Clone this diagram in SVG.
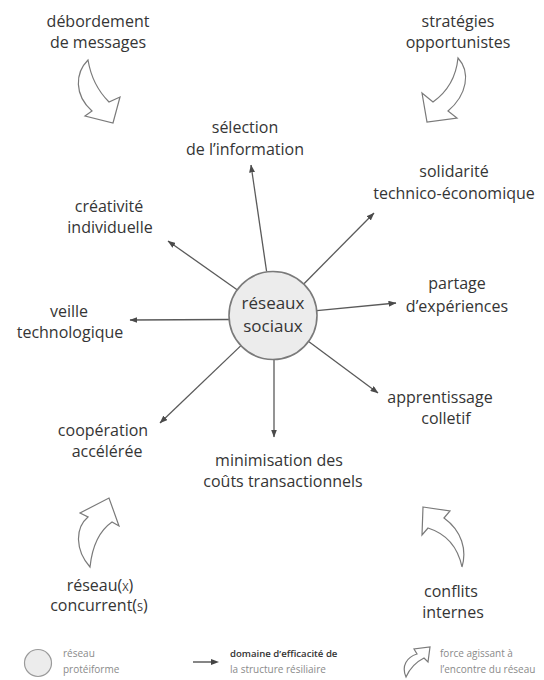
<svg xmlns="http://www.w3.org/2000/svg" width="544" height="680" viewBox="0 0 544 680">
<style>
.lbl{font-family:"Open Sans","Noto Sans",sans-serif;font-size:16px;fill:#353535;text-anchor:middle}
.ctr{font-family:"Open Sans","Noto Sans",sans-serif;font-size:17px;fill:#353535;text-anchor:middle}
.leg{font-family:"Open Sans","Noto Sans",sans-serif;font-size:10px;fill:#8a8a8a}
.legb{font-family:"Open Sans","Noto Sans",sans-serif;font-size:9.6px;fill:#333;font-weight:600}
.spoke{stroke:#5a5a5a;stroke-width:1.3;fill:none;marker-end:url(#ah)}
.force{fill:#fff;stroke:#7a7a7a;stroke-width:1.2;stroke-linejoin:miter}
</style>
<defs>
<marker id="ah" markerUnits="userSpaceOnUse" markerWidth="8" markerHeight="6" refX="7.5" refY="3" orient="auto">
<path d="M0,0 L8,3 L0,6 Z" fill="#4a4a4a"/>
</marker>
</defs>
<rect width="544" height="680" fill="#fff"/>

<g id="connectors">
<line class="spoke" x1="266.6" y1="271.5" x2="251" y2="165"/>
<line class="spoke" x1="237.1" y1="289.7" x2="168" y2="241"/>
<line class="spoke" x1="304" y1="283.7" x2="374" y2="213"/>
<line class="spoke" x1="316.8" y1="310.7" x2="396" y2="303"/>
<line class="spoke" x1="229" y1="319.5" x2="130" y2="320"/>
<line class="spoke" x1="308.3" y1="341.2" x2="378" y2="393"/>
<line class="spoke" x1="241.2" y1="345.4" x2="160" y2="423"/>
<line class="spoke" x1="274" y1="359.5" x2="274" y2="437"/>
</g>

<g id="reseaux-sociaux">
<circle cx="273" cy="315.5" r="44" fill="#ececec" stroke="#7a7a7a" stroke-width="1.6"/>
<text class="ctr" x="273" y="309">réseaux</text>
<text class="ctr" x="273" y="332">sociaux</text>
</g>

<g id="selection">
<text class="lbl" x="245" y="133">sélection</text>
<text class="lbl" x="245" y="155">de l’information</text>
</g>
<g id="solidarite">
<text class="lbl" x="454" y="177">solidarité</text>
<text class="lbl" x="454" y="199">technico-économique</text>
</g>
<g id="creativite">
<text class="lbl" x="109" y="212">créativité</text>
<text class="lbl" x="110" y="233">individuelle</text>
</g>
<g id="partage">
<text class="lbl" x="457" y="289">partage</text>
<text class="lbl" x="457" y="312">d’expériences</text>
</g>
<g id="veille">
<text class="lbl" x="69" y="317">veille</text>
<text class="lbl" x="70" y="338">technologique</text>
</g>
<g id="apprentissage">
<text class="lbl" x="440" y="403">apprentissage</text>
<text class="lbl" x="446" y="424">colletif</text>
</g>
<g id="cooperation">
<text class="lbl" x="103" y="436">coopération</text>
<text class="lbl" x="107" y="457">accélérée</text>
</g>
<g id="minimisation">
<text class="lbl" x="279" y="466">minimisation des</text>
<text class="lbl" x="283" y="487">coûts transactionnels</text>
</g>

<g id="debordement">
<text class="lbl" x="98" y="27">débordement</text>
<text class="lbl" x="98" y="48">de messages</text>
<path class="force" d="M88,60 C75,73 74,95 92,111 L85,116 L113,123 L120,97 L109,102 C99,92 91,78 88,60 Z"/>
</g>
<g id="strategies">
<text class="lbl" x="458" y="27">stratégies</text>
<text class="lbl" x="458" y="48">opportunistes</text>
<path class="force" d="M458,58 C471,72 467,95 448,111 L457,118 L427,122 L422,93 L433,102 C447,92 456,78 458,58 Z"/>
</g>
<g id="reseaux-concurrents">
<path class="force" d="M90,567 C75,550 75,528 88,517 L80,513 L109,498 L119,526 L112,522 C99,531 92,548 90,567 Z"/>
<text class="lbl" x="100" y="591">réseau<tspan style="font-variant:small-caps">(x)</tspan></text>
<text class="lbl" x="99" y="611">concurrent<tspan style="font-variant:small-caps">(s)</tspan></text>
</g>
<g id="conflits">
<path class="force" d="M423,507 L450,511 L444,518 C462,531 467,550 462,567 C458,548 447,534 428,528 L422,535 Z"/>
<text class="lbl" x="451" y="597">conflits</text>
<text class="lbl" x="453" y="618">internes</text>
</g>

<g id="legend">
<circle cx="38" cy="663" r="13.5" fill="#ececec" stroke="#9a9a9a" stroke-width="1.2"/>
<text class="leg" x="63" y="657">réseau</text>
<text class="leg" x="63" y="673">protéiforme</text>
<line x1="193" y1="662" x2="212" y2="662" stroke="#444" stroke-width="1.3"/>
<path d="M211,659 L219,662 L211,665 Z" fill="#444"/>
<text class="legb" x="230" y="657">domaine d’efficacité de</text>
<text class="leg" x="230" y="673">la structure résiliaire</text>
<path class="force" d="M406,677 C401,666 407,657 417,654 L414,649 L430,647 L428,662 L424,658 C416,662 410,668 406,677 Z"/>
<text class="leg" x="440" y="657">force agissant à</text>
<text class="leg" x="440" y="673">l’encontre du réseau</text>
</g>
</svg>
